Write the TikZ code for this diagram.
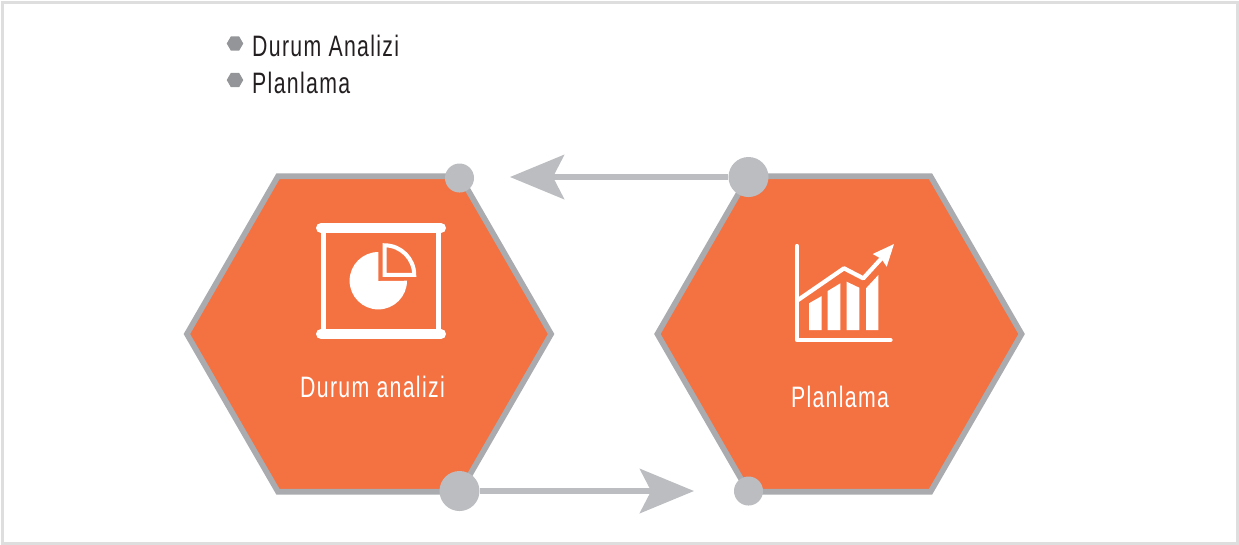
\documentclass[tikz,border=0pt]{standalone}
\usepackage{fontspec}
\setmainfont[FakeStretch=0.72,LetterSpace=4.5]{Liberation Sans}
\usetikzlibrary{arrows.meta,shapes.geometric}
\definecolor{hexfill}{HTML}{F47142}
\definecolor{hexline}{HTML}{A9ABAE}
\definecolor{dotgray}{HTML}{BBBDC0}
\definecolor{bulletgray}{HTML}{939598}
\definecolor{framegray}{HTML}{DEDEDE}
\definecolor{listtext}{HTML}{231F20}
\tikzset{
hexbox/.style={regular polygon,regular polygon sides=6,shape border rotate=0,draw=hexline,fill=hexfill,line width=1.6pt,minimum size=3.64cm,inner sep=0pt,outer sep=0pt},
bullethex/.style={regular polygon,regular polygon sides=6,shape border rotate=0,fill=bulletgray,minimum size=0.165cm,inner sep=0pt,outer sep=0pt},
listlabel/.style={anchor=west,inner sep=0pt,text=listtext,font=\fontsize{8.4}{10}\selectfont},
hexlabel/.style={inner sep=0pt,text=white,font=\fontsize{8.4}{10}\selectfont},
dotnode/.style={circle,fill=dotgray,inner sep=0pt,outer sep=0pt,minimum size=#1},
flowarrow/.style={draw=dotgray,line width=1.6pt,-{Stealth[length=15.4pt,width=12.6pt,inset=3.2pt,fill=dotgray]}},
iconline/.style={draw=white,line width=1.2pt,line cap=round,line join=round}
}
\begin{document}
\begin{tikzpicture}[x=0.01cm,y=-0.01cm]
\useasboundingbox(0,0)rectangle(1239,544);
\draw[framegray,line width=0.85pt](2.5,2.5)rectangle(1237.5,543.5);
\node[hexbox](hexA)at(369,334){};
\node[hexbox](hexB)at(839.5,334){};
\foreach \y/\t/\n in {43.5/Durum Analizi/a,80/Planlama/b}{
\node[bullethex](bullet\n)at(235,\y){};
\node[listlabel](item\n)at(251.5,\y+2.5){\t};
}
\node[hexlabel](labelA)at(372.5,387){Durum analizi};
\node[hexlabel](labelB)at(840,397){Planlama};
\node[dotnode=0.29cm](dotA)at(459.5,178){};
\node[dotnode=0.40cm](dotB)at(748.5,177){};
\node[dotnode=0.40cm](dotC)at(459.5,491){};
\node[dotnode=0.29cm](dotD)at(748.5,491){};
\coordinate(tipA)at(510,177);
\coordinate(tipB)at(694,491);
\draw[flowarrow](dotB)--(tipA);
\draw[flowarrow](dotC)--(tipB);
\draw[white,line width=2.85pt,line cap=round](321,228)--(441,228);
\draw[white,line width=2.85pt,line cap=round](321,334)--(441,334);
\draw[white,line width=1.4pt](323.5,228)--(323.5,334);
\draw[white,line width=1.4pt](438.5,228)--(438.5,334);
\fill[white](378.3,281)--(378.3,252)arc[start angle=90,end angle=360,x radius=28.7,y radius=-28.7]--cycle;
\draw[white,line width=1.15pt,miter limit=4](384.6,274.9)--(384.6,245.3)arc[start angle=90,end angle=0,x radius=29.6,y radius=-29.6]--cycle;
\draw[iconline](797,246)--(797,340)--(890.5,340);
\foreach \a/\b/\c/\d in {809/303.3/821.7/296,827.7/291/840.3/283.3,846.7/281.7/859.3/287.7,866/288.3/878.3/275}{
\fill[white](\a,330)--(\a,\b)--(\c,\d)--(\c,330)--cycle;
}
\draw[white,line width=1.2pt,line join=round](798,300)--(844,268.3)--(863.3,278.3)--(883,256.7);
\fill[white](894,244)--(872.7,254)--(881.5,259)--(886.7,266.7)--cycle;
\end{tikzpicture}
\end{document}
